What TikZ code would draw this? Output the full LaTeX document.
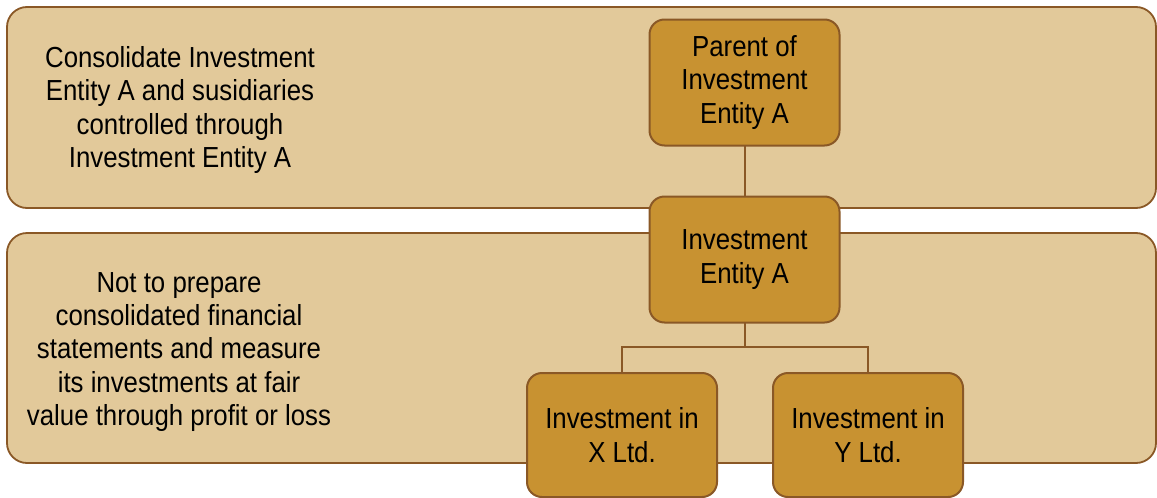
\documentclass[tikz,border=0pt]{standalone}
\usepackage{fontspec}
\setmainfont[FakeStretch=0.89]{Liberation Sans}
\usetikzlibrary{positioning}

\definecolor{bandfill}{HTML}{E2C99A}
\definecolor{boxfill}{HTML}{C89231}
\definecolor{edgebrown}{HTML}{8A5826}

\begin{document}
\begin{tikzpicture}[x=1pt, y=-1pt,
    band/.style={draw=edgebrown, line width=1.8pt, fill=bandfill,
      rounded corners=20pt, inner sep=0pt},
    entity/.style={draw=edgebrown, line width=2pt, fill=boxfill,
      rounded corners=15pt, minimum width=190pt, minimum height=126pt,
      align=center, inner sep=2pt},
    note/.style={align=center},
    link/.style={draw=edgebrown, line width=2pt},
    every node/.style={font=\fontsize{29}{33.3}\selectfont}]

  \useasboundingbox (0,0) rectangle (1157,498);

  % the two levels
  \node[band, minimum width=1149pt, minimum height=201pt] (toplevel) at (581.5,107.5) {};
  \node[band, minimum width=1149pt, minimum height=230pt] (lowlevel) at (581.5,348) {};

  \node[note] (topnote) at (180,110) {Consolidate Investment\\Entity A and susidiaries\\controlled through\\Investment Entity A};
  \node[note] (lownote) at (179,352) {Not to prepare\\consolidated financial\\statements and measure\\its investments at fair\\value through profit or loss};

  % group structure
  \coordinate (parentpos) at (744.5,82.5);
  \coordinate (ipos) at (744.5,259.5);
  \draw[link] (parentpos) -- (ipos);
  \draw[link] (ipos) -- ++(0,87.5) coordinate (fork);
  \draw[link] (fork) -| (622,435);
  \draw[link] (fork) -| (868,435);

  \node[entity] (parent) at (parentpos) {Parent of\\Investment\\Entity A};
  \node[entity] (ient) at (ipos) {Investment\\Entity A};
  \node[entity, minimum height=124pt] (xltd) at (622,435) {Investment in\\X Ltd.};
  \node[entity, minimum height=124pt, right=54pt of xltd] (yltd) {Investment in\\Y Ltd.};
\end{tikzpicture}
\end{document}
